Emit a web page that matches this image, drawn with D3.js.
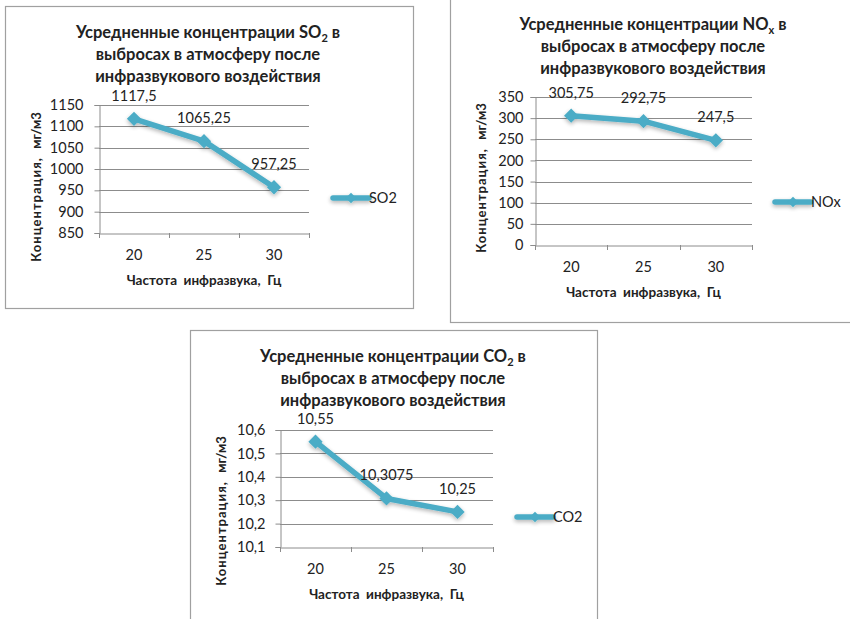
<!DOCTYPE html>
<html><head><meta charset="utf-8">
<script src="https://cdn.jsdelivr.net/npm/d3@7"></script>
<style>
html,body{margin:0;padding:0;background:#fff;}
svg text{font-family:Lato,"Noto Sans","DejaVu Sans",sans-serif;}
</style></head>
<body>
<svg id="c" width="850" height="619"></svg>
<script>
// ---- data ----
const freqs = ["20", "25", "30"];
const so2Values = [1117.5, 1065.25, 957.25];
const noxValues = [305.75, 292.75, 247.5];
const co2Values = [10.55, 10.3075, 10.25];
const so2Labels = ["1117,5", "1065,25", "957,25"];
const noxLabels = ["305,75", "292,75", "247,5"];
const co2Labels = ["10,55", "10,3075", "10,25"];
const so2Ticks = [850, 900, 950, 1000, 1050, 1100, 1150];
const noxTicks = [0, 50, 100, 150, 200, 250, 300, 350];
const co2Ticks = [10.1, 10.2, 10.3, 10.4, 10.5, 10.6];
const xTitle = "Частота  инфразвука,  Гц";
const yTitleA = "Концентрация,  ";
const yTitleB = "мг/м3";

const COLOR = "#4bacc6";
const svg = d3.select("#c");

const defs = svg.append("defs");
const f = defs.append("filter").attr("id","sh").attr("x","-20%").attr("y","-20%").attr("width","140%").attr("height","160%");
f.append("feGaussianBlur").attr("in","SourceAlpha").attr("stdDeviation",2).attr("result","b");
f.append("feOffset").attr("in","b").attr("dx",0).attr("dy",2).attr("result","o");
f.append("feComponentTransfer").attr("in","o").attr("result","o2")
 .append("feFuncA").attr("type","linear").attr("slope",0.3);
const m = f.append("feMerge");
m.append("feMergeNode").attr("in","o2");
m.append("feMergeNode").attr("in","SourceGraphic");

const charts = [
  {frame:[5,6,408,302], plot:[99,105,309,233], domain:[850,1150], ticks:so2Ticks,
   values:so2Values, labels:so2Labels, fmt:d=>String(d), yPad:11,
   title:["Усредненные концентрации SO","2"," в","выбросах в атмосферу после","инфразвукового воздействия"],
   titleX:208, titleY:[38,60,82], yTitleX:41, yTitleY:187, legendX:333, legendY:198, legendName:"SO2"},
  {frame:[450,-2,420,324], plot:[535,97,752,245], domain:[0,350], ticks:noxTicks,
   values:noxValues, labels:noxLabels, fmt:d=>String(d), yPad:7,
   title:["Усредненные концентрации NO","x"," в","выбросах в атмосферу после","инфразвукового воздействия"],
   titleX:653, titleY:[30,52,74], yTitleX:486, yTitleY:178, legendX:775, legendY:202, legendName:"NOx"},
  {frame:[190,330,407,300], plot:[280,430,493,547], domain:[10.1,10.6], ticks:co2Ticks,
   values:co2Values, labels:co2Labels, fmt:d=>d3.format(".1f")(d).replace(".",","), yPad:10,
   title:["Усредненные концентрации CO","2"," в","выбросах в атмосферу после","инфразвукового воздействия"],
   titleX:393, titleY:[362,384,406], yTitleX:226, yTitleY:511, legendX:517, legendY:517, legendName:"CO2"}
];

charts.forEach(c => {
  const g = svg.append("g");
  g.append("rect").attr("x",c.frame[0]+0.5).attr("y",c.frame[1]+0.5)
    .attr("width",c.frame[2]).attr("height",c.frame[3])
    .attr("fill","#fff").attr("stroke","#a0a0a0").attr("stroke-width",1.2);

  const [x0,y0,x1,y1] = c.plot;
  const x = d3.scaleBand().domain(freqs).range([x0,x1]);
  const y = d3.scaleLinear().domain(c.domain).range([y1,y0]);

  // gridlines
  g.append("g").selectAll("line").data(c.ticks.slice(1)).join("line")
    .attr("x1",x0).attr("x2",x1).attr("y1",d=>Math.round(y(d))+0.5).attr("y2",d=>Math.round(y(d))+0.5)
    .attr("stroke","#8c8c8c").attr("stroke-width",1);

  // y axis
  const ya = g.append("g").attr("transform",`translate(${x0+0.5},0)`)
    .call(d3.axisLeft(y).tickValues(c.ticks).tickSize(5).tickPadding(c.yPad).tickFormat(c.fmt));
  ya.select(".domain").attr("stroke","#8c8c8c");
  ya.selectAll(".tick line").attr("stroke","#8c8c8c");
  ya.selectAll(".tick text").attr("font-size",14.5).attr("fill","#222")
    .style("font-family","Lato,'Noto Sans',sans-serif");

  // x axis
  const xa = g.append("g").attr("transform",`translate(0,${Math.round(y1)+0.5})`)
    .call(d3.axisBottom(x).tickSize(0).tickPadding(16));
  xa.select(".domain").attr("stroke","#8c8c8c");
  xa.selectAll(".tick text").attr("font-size",14.5).attr("fill","#222")
    .style("font-family","Lato,'Noto Sans',sans-serif");
  // category boundary tick marks
  const bounds = [x0, ...freqs.map(d=>x(d)+x.bandwidth())];
  g.append("g").selectAll("line").data(bounds).join("line")
    .attr("x1",d=>Math.round(d)+0.5).attr("x2",d=>Math.round(d)+0.5)
    .attr("y1",y1).attr("y2",y1+5).attr("stroke","#8c8c8c");

  // line
  const pts = c.values.map((v,i)=>[x(freqs[i])+x.bandwidth()/2, y(v)]);
  const lg = g.append("g").attr("filter","url(#sh)");
  lg.append("path").attr("d",d3.line()(pts)).attr("fill","none")
    .attr("stroke",COLOR).attr("stroke-width",5.5).attr("stroke-linejoin","round");
  lg.selectAll("path.mk").data(pts).join("path").attr("class","mk")
    .attr("transform",d=>`translate(${d[0]},${d[1]})`)
    .attr("d",d3.symbol(d3.symbolDiamond2,130)).attr("fill",COLOR);

  // data labels
  g.selectAll("text.dl").data(pts).join("text").attr("class","dl")
    .attr("x",d=>d[0]).attr("y",d=>d[1]-18).attr("text-anchor","middle")
    .attr("font-size",14.5).attr("fill","#222").text((d,i)=>c.labels[i]);

  // title
  const t1 = g.append("text").attr("x",c.titleX).attr("y",c.titleY[0]).attr("text-anchor","middle")
    .attr("font-size",16.5).attr("font-weight","bold").attr("fill","#222");
  t1.append("tspan").text(c.title[0]);
  t1.append("tspan").attr("font-size",11).attr("dy",4).text(c.title[1]);
  t1.append("tspan").attr("dy",-4).text(c.title[2]);
  [c.title[3],c.title[4]].forEach((s,i)=>{
    g.append("text").attr("x",c.titleX).attr("y",c.titleY[i+1]).attr("text-anchor","middle")
      .attr("font-size",16.5).attr("font-weight","bold").attr("fill","#222").text(s);
  });

  // x title
  g.append("text").attr("x",(x0+x1)/2).attr("y",y1+52).attr("text-anchor","middle")
    .attr("font-size",13.5).attr("font-weight","bold").attr("fill","#222")
    .style("white-space","pre").text(xTitle);

  // y title
  const yt = g.append("text").attr("transform",`translate(${c.yTitleX},${c.yTitleY}) rotate(-90)`)
    .attr("text-anchor","middle").attr("font-size",13).attr("font-weight","bold").attr("fill","#222")
    .style("white-space","pre");
  yt.append("tspan").attr("letter-spacing",1.0).text(yTitleA);
  yt.append("tspan").text(yTitleB);

  // legend
  const lgd = g.append("g").attr("filter","url(#sh)");
  lgd.append("line").attr("x1",c.legendX).attr("x2",c.legendX+36).attr("y1",c.legendY).attr("y2",c.legendY)
    .attr("stroke",COLOR).attr("stroke-width",5.5).attr("stroke-linecap","round");
  lgd.append("path").attr("transform",`translate(${c.legendX+18},${c.legendY})`)
    .attr("d",d3.symbol(d3.symbolDiamond2,70)).attr("fill",COLOR);
  g.append("text").attr("x",c.legendX+36).attr("y",c.legendY+5)
    .attr("font-size",14.5).attr("fill","#222").text(c.legendName);
});
</script>
</body></html>
